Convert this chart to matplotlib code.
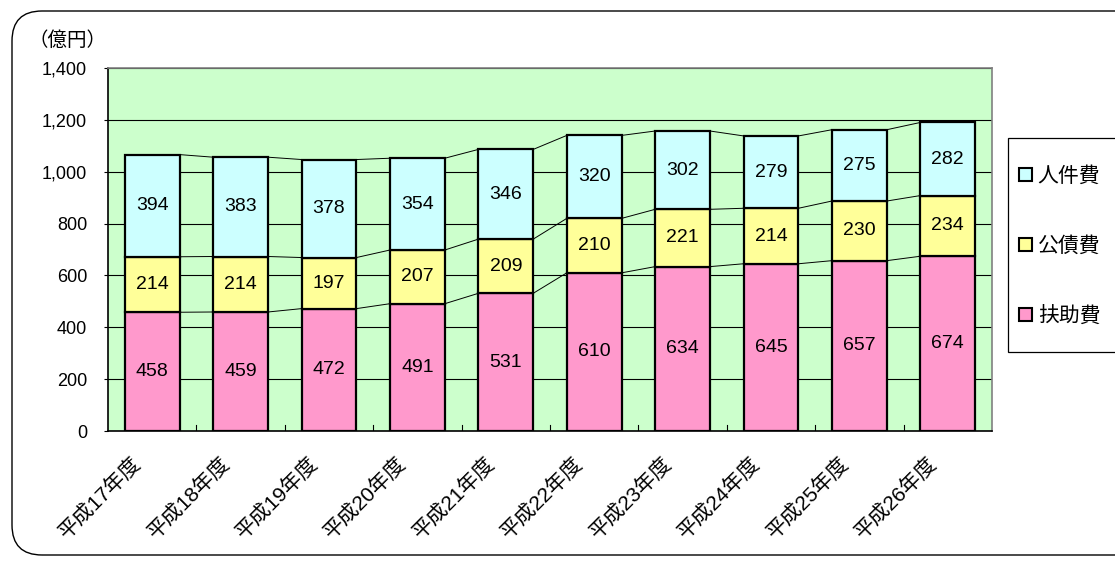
import matplotlib.pyplot as plt
import numpy as np
import matplotlib.transforms as mtransforms
from matplotlib.patches import Patch, FancyBboxPatch, Rectangle

plt.rcParams['font.family'] = ['Noto Sans CJK JP', 'DejaVu Sans']
NUMFONT = ['Liberation Sans', 'DejaVu Sans']
MIXFONT = ['Liberation Sans', 'Noto Sans CJK JP']

years = ['平成17年度', '平成18年度', '平成19年度', '平成20年度', '平成21年度',
         '平成22年度', '平成23年度', '平成24年度', '平成25年度', '平成26年度']
fujo = [458, 459, 472, 491, 531, 610, 634, 645, 657, 674]
kosai = [214, 214, 197, 207, 209, 210, 221, 214, 230, 234]
jinken = [394, 383, 378, 354, 346, 320, 302, 279, 275, 282]

c_fujo = '#FF99CC'
c_kosai = '#FFFF99'
c_jinken = '#CCFFFF'

fig = plt.figure(figsize=(11.15, 5.61), dpi=100)
W, H = 1115, 561
ax = fig.add_axes([108 / W, (H - 431) / H, 884 / W, 363 / H])
ax.set_facecolor('#CCFFCC')

x = np.arange(len(years))
bw = 0.62
fujo = np.array(fujo)
kosai = np.array(kosai)
jinken = np.array(jinken)
series = [(fujo, np.zeros(len(x)), c_fujo),
          (kosai, fujo, c_kosai),
          (jinken, fujo + kosai, c_jinken)]
for vals, bottom, col in series:
    ax.bar(x, vals, bw, bottom=bottom, color=col, edgecolor='black', linewidth=1.6, zorder=3)
    for xi, v, b in zip(x, vals, bottom):
        ax.text(xi, b + v / 2, str(v), ha='center', va='center', fontsize=14,
                family=NUMFONT, zorder=4)
    # series lines between bar tops
    tops = bottom + vals
    for i in range(len(x) - 1):
        ax.plot([x[i] + bw / 2, x[i + 1] - bw / 2], [tops[i], tops[i + 1]],
                color='black', lw=0.7, zorder=2)

ax.set_xlim(-0.5, len(x) - 0.5)
ax.set_ylim(0, 1400)
ax.set_yticks(np.arange(0, 1401, 200))
ax.set_yticklabels([f'{v:,}' for v in range(0, 1401, 200)], fontsize=13, family=NUMFONT)
ax.yaxis.grid(True, color='black', lw=0.8, zorder=1)
ax.set_axisbelow(True)
ax.tick_params(axis='y', length=3, direction='out', pad=12)

ax.set_xticks(x)
ax.set_xticklabels(years, rotation=45, ha='right', va='top', rotation_mode='anchor',
                   fontsize=15, family=MIXFONT)
ax.tick_params(axis='x', length=0, pad=10)
shift = mtransforms.ScaledTranslation(-21 / 100, -8 / 100, fig.dpi_scale_trans)
for lab in ax.get_xticklabels():
    lab.set_transform(lab.get_transform() + shift)
# category boundary ticks
for b in np.arange(0.5, len(x) - 0.5, 1):
    ax.plot([b, b], [0, 22], color='black', lw=0.8, zorder=2)

for s in ['left', 'bottom']:
    ax.spines[s].set_color('black')
    ax.spines[s].set_linewidth(1.2)
for s in ['top', 'right']:
    ax.spines[s].set_color('#808080')
    ax.spines[s].set_linewidth(1.2)

fig.text(28 / W, 1 - 40 / H, '（億円）', fontsize=14, va='center', ha='left')

handles = [Patch(facecolor=c_jinken, edgecolor='black', lw=1.5, label='人件費'),
           Patch(facecolor=c_kosai, edgecolor='black', lw=1.5, label='公債費'),
           Patch(facecolor=c_fujo, edgecolor='black', lw=1.5, label='扶助費')]
leg = fig.legend(handles=handles, loc='center left', bbox_to_anchor=(1019 / W, 1 - 246 / H),
                 fontsize=15, frameon=False, labelspacing=2.3,
                 handlelength=0.6, handleheight=0.6, handletextpad=0.3,
                 borderpad=0, borderaxespad=0)
fig.patches.append(Rectangle((1008 / W, 1 - 352 / H), 120 / W, 214 / H, transform=fig.transFigure,
                             facecolor='white', edgecolor='black', lw=0.9, zorder=0))

border = FancyBboxPatch((0.12, 0.06), 11.4, 5.44, boxstyle='round,pad=0,rounding_size=0.3',
                        transform=fig.dpi_scale_trans, facecolor='none', edgecolor='black',
                        lw=1.0, clip_on=False)
fig.patches.append(border)

fig.savefig('out.png', dpi=100)
